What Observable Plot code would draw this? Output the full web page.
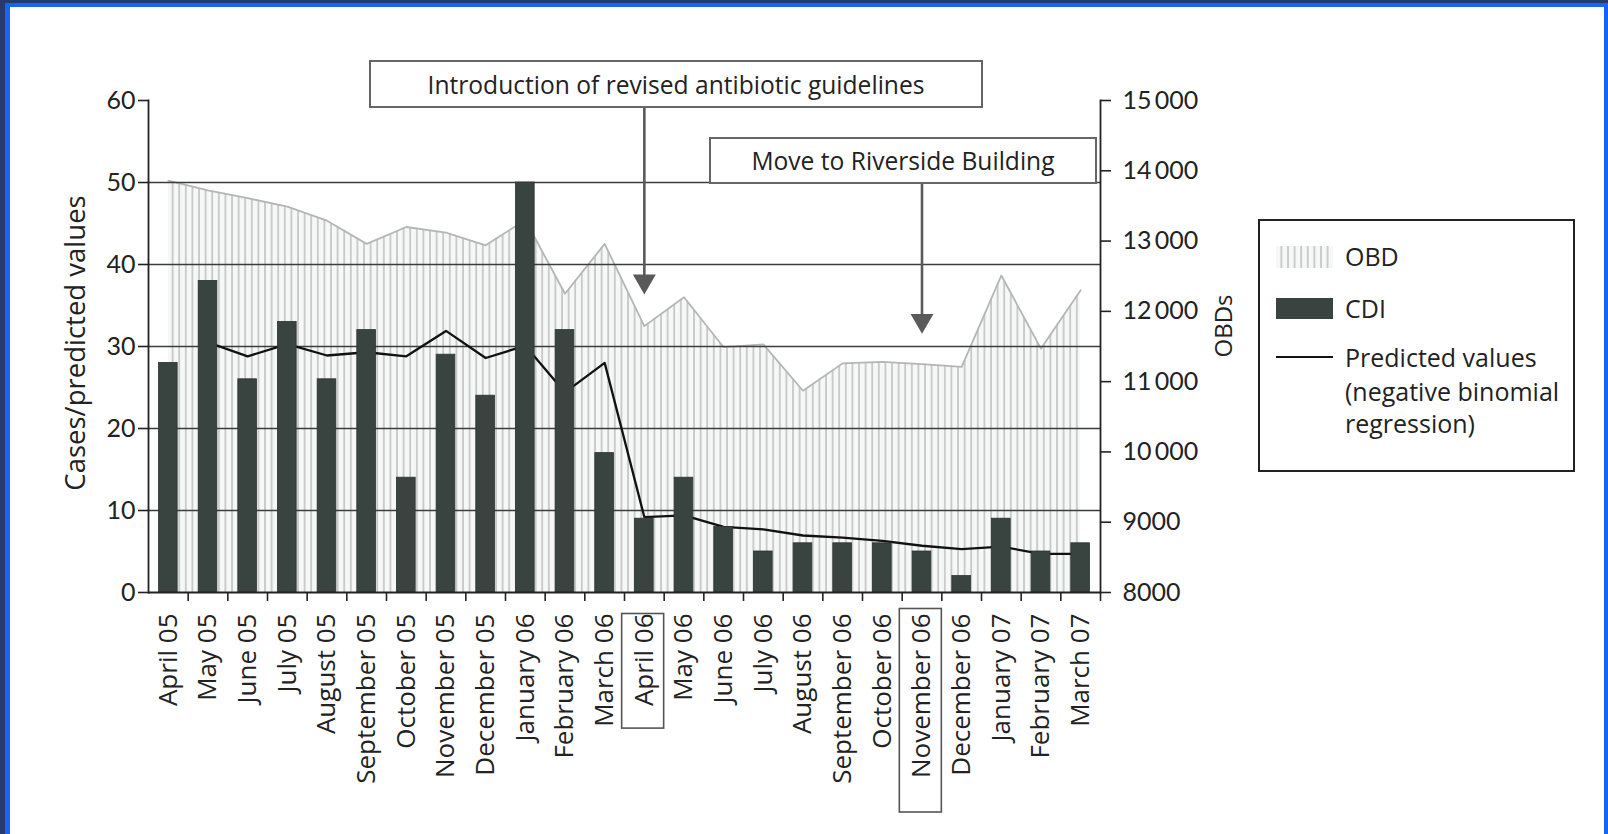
<!DOCTYPE html>
<html>
<head>
<meta charset="utf-8">
<script src="https://cdn.jsdelivr.net/npm/d3@7"></script>
<script src="https://cdn.jsdelivr.net/npm/@observablehq/plot@0.6"></script>
<style>
  html, body { margin: 0; padding: 0; background: #fff; }
  #wrap { position: relative; width: 1608px; height: 834px; overflow: hidden; background: #fff; font-family: "Open Sans", Lato, sans-serif; }
  #wrap svg { position: absolute; left: 0; top: 0; }
  .bd { position: absolute; }
</style>
</head>
<body>
<div id="wrap">
  <div class="bd" style="left:0;top:0;width:1608px;height:3px;background:#263a6c"></div>
  <div class="bd" style="left:0;top:3px;width:1608px;height:4px;background:#1764f8"></div>
  <div class="bd" style="left:0;top:0;width:5px;height:834px;background:#263a6c"></div>
  <div class="bd" style="left:5px;top:3px;width:5px;height:831px;background:#1764f8"></div>
  <div class="bd" style="left:1604px;top:3px;width:4px;height:831px;background:#1764f8"></div>
</div>
<script>
// ---- data ----
const months = ["April 05","May 05","June 05","July 05","August 05","September 05","October 05","November 05","December 05","January 06","February 06","March 06","April 06","May 06","June 06","July 06","August 06","September 06","October 06","November 06","December 06","January 07","February 07","March 07"];
const cdiCases = [28,38,26,33,26,32,14,29,24,50,32,17,9,14,8,5,6,6,6,5,2,9,5,6];
const predictedValues = [null,30.5,28.8,30.3,28.9,29.3,28.8,31.9,28.6,30.1,24.4,28.0,9.2,9.4,8.0,7.7,6.95,6.7,6.3,5.7,5.3,5.6,4.7,4.7];
const obdValues = [13860,13720,13610,13490,13290,12960,13200,13120,12940,13300,12250,12960,11790,12200,11490,11530,10870,11260,11280,11250,11210,12510,11470,12300];
const leftTicks = [0,10,20,30,40,50,60];
const gridValues = [10,20,30,40,50];
const obdTicks = [8000,9000,10000,11000,12000,13000,14000,15000];
const obdTickLabels = ["8000","9000","10\u2009000","11\u2009000","12\u2009000","13\u2009000","14\u2009000","15\u2009000"];
const annotations = [
  {month: "April 06", label: "Introduction of revised antibiotic guidelines", y1: 59.2, y2: 37.6},
  {month: "November 06", label: "Move to Riverside Building", y1: 49.8, y2: 32.8}
];
const legendItems = ["OBD", "CDI", "Predicted values", "(negative binomial", "regression)"];

// ---- layout ----
const W = 1608, H = 834, ML = 148, MR = 508, MT = 100, MB = 242;
const bw = (W - ML - MR) / months.length;
const toLeft = v => (v - 8000) / 7000 * 60;
const rows = months.map((m, i) => ({month: m, cdi: cdiCases[i], pred: predictedValues[i], obd: toLeft(obdValues[i])}));
const FONT = "'Open Sans', Lato, sans-serif";

const plot = Plot.plot({
  width: W, height: H,
  marginLeft: ML, marginRight: MR, marginTop: MT, marginBottom: MB,
  style: {fontFamily: FONT, fontSize: "24px", color: "#222", background: "transparent", overflow: "visible"},
  x: {type: "band", domain: months, padding: 0, round: false, label: null},
  y: {domain: [0, 60], label: null},
  marks: [
    Plot.areaY(rows, {x: "month", y1: 0, y2: "obd", fill: "url(#obdHatch)"}),
    Plot.lineY(rows, {x: "month", y: "obd", stroke: "#b4b6b5", strokeWidth: 1.8}),
    Plot.ruleY(gridValues, {stroke: "#3c3c3c", strokeWidth: 1.6}),
    Plot.lineY(rows.filter(d => d.pred != null), {x: "month", y: "pred", stroke: "#111", strokeWidth: 2.3}),
    Plot.barY(rows, {x: "month", y: "cdi", fill: "#39433f", stroke: "#2c3431", strokeWidth: 0.8, insetLeft: 10.5, insetRight: 10.5}),
    Plot.ruleY([0], {stroke: "#222", strokeWidth: 1.8}),
    Plot.frame({anchor: "left", stroke: "#222", strokeWidth: 1.8}),
    Plot.frame({anchor: "right", stroke: "#222", strokeWidth: 1.8}),
    Plot.axisY(leftTicks, {anchor: "left", tickSize: 10, tickPadding: 3, label: null, fontSize: 25, fontFamily: "Lato, sans-serif", strokeWidth: 1.6}),
    Plot.axisY(obdTicks.map(toLeft), {anchor: "right", tickSize: 10, tickPadding: 12, label: null, fontSize: 25, fontFamily: "Lato, sans-serif", strokeWidth: 1.6,
      tickFormat: d => obdTickLabels[Math.round(d / 60 * 7)]}),
    Plot.axisX({anchor: "bottom", tickSize: 9, tickFormat: () => "", dx: bw / 2, strokeWidth: 1.6}),
    Plot.axisX({anchor: "bottom", tickSize: 0, tickPadding: 21, tickRotate: -90, label: null, fontSize: 26}),
    Plot.ruleX(annotations, {x: "month", y1: "y1", y2: "y2", stroke: "#5a5a5a", strokeWidth: 2.6}),
    Plot.dot(annotations, {x: "month", y: "y2", symbol: "triangle", r: 8.5, fill: "#5a5a5a", rotate: 180, dy: -3})
  ]
});

document.getElementById("wrap").appendChild(plot);
const svg = d3.select(plot);

// hatch pattern
const defs = svg.insert("defs", ":first-child");
const pat = defs.append("pattern").attr("id", "obdHatch").attr("patternUnits", "userSpaceOnUse")
  .attr("width", 6.6).attr("height", 20);
pat.append("rect").attr("width", 6.6).attr("height", 20).attr("fill", "#f6f8f7");
pat.append("line").attr("x1", 1).attr("x2", 1).attr("y1", 0).attr("y2", 20).attr("stroke", "#bcc0be").attr("stroke-width", 1.5);

// boxes around highlighted month labels
const boxPad = {"April 06": [22, 0], "November 06": [34, 5]};
svg.selectAll("text").each(function() {
  const t = this.textContent;
  if (boxPad[t]) {
    const bb = this.getBBox();
    const [padStart, padEnd] = boxPad[t];
    d3.select(this.parentNode).append("rect")
      .attr("transform", this.getAttribute("transform"))
      .attr("x", bb.x - padStart).attr("y", bb.y - 3)
      .attr("width", bb.width + padStart + padEnd).attr("height", bb.height + 6)
      .attr("fill", "none").attr("stroke", "#555").attr("stroke-width", 1.6);
  }
});

// annotation boxes
const boxes = [
  {label: annotations[0].label, x: 370, y: 61, w: 612, h: 46},
  {label: annotations[1].label, x: 710, y: 138, w: 386, h: 45}
];
const ann = svg.append("g");
boxes.forEach(b => {
  ann.append("rect").attr("x", b.x).attr("y", b.y).attr("width", b.w).attr("height", b.h)
    .attr("fill", "#fff").attr("stroke", "#666").attr("stroke-width", 2);
  ann.append("text").attr("x", b.x + b.w / 2).attr("y", b.y + b.h / 2).attr("text-anchor", "middle")
    .attr("dominant-baseline", "central").attr("font-family", FONT).attr("font-size", 24.6).attr("fill", "#222").text(b.label);
});

// axis titles
svg.append("text").attr("transform", "translate(74,343) rotate(-90)").attr("text-anchor", "middle")
  .attr("dominant-baseline", "central").attr("font-family", FONT).attr("font-size", 27.5).attr("fill", "#222").text("Cases/predicted values");
svg.append("text").attr("transform", "translate(1222,326) rotate(-90)").attr("text-anchor", "middle")
  .attr("dominant-baseline", "central").attr("font-family", FONT).attr("font-size", 24).attr("fill", "#222").text("OBDs");

// legend
const lg = svg.append("g");
lg.append("rect").attr("x", 1259).attr("y", 220).attr("width", 315).attr("height", 251)
  .attr("fill", "#fff").attr("stroke", "#222").attr("stroke-width", 2);
lg.append("rect").attr("x", 1276).attr("y", 246).attr("width", 57).attr("height", 22).attr("fill", "url(#obdHatch)");
lg.append("rect").attr("x", 1276).attr("y", 298).attr("width", 57).attr("height", 21).attr("fill", "#39433f");
lg.append("line").attr("x1", 1276).attr("x2", 1333).attr("y1", 357).attr("y2", 357).attr("stroke", "#111").attr("stroke-width", 2.2);
const legendY = [256, 308, 357, 391, 423];
legendItems.forEach((t, i) => {
  lg.append("text").attr("x", 1345).attr("y", legendY[i]).attr("dominant-baseline", "central").attr("text-anchor", "start")
    .attr("font-family", FONT).attr("font-size", 25).attr("fill", "#222").text(t);
});
</script>
</body>
</html>
